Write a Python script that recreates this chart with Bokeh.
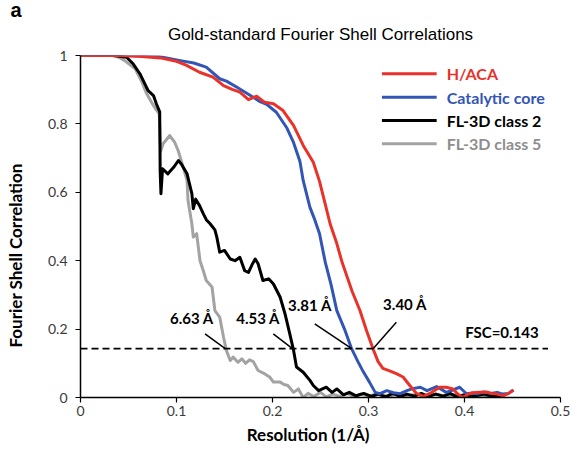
from bokeh.plotting import figure
from bokeh.models import FixedTicker, NumeralTickFormatter, Label, Title
from bokeh.embed import file_html
from bokeh.resources import INLINE

# ---------------- data ----------------
haca_x = [0, 0.02, 0.04, 0.06, 0.083, 0.10, 0.11, 0.124, 0.138, 0.149, 0.158, 0.166, 0.175,
          0.1835, 0.192, 0.201, 0.211, 0.222, 0.232, 0.2425, 0.249, 0.255, 0.26, 0.267, 0.272,
          0.2755, 0.283, 0.291, 0.298, 0.305, 0.31, 0.315, 0.322, 0.329, 0.336, 0.343, 0.35,
          0.357, 0.364, 0.374, 0.381, 0.388, 0.393, 0.398, 0.404, 0.409, 0.416, 0.423, 0.428,
          0.434, 0.44, 0.446, 0.451]
haca_y = [1, 1, 1, 0.998, 0.993, 0.983, 0.972, 0.951, 0.937, 0.912, 0.901, 0.893, 0.871,
          0.881, 0.863, 0.859, 0.839, 0.795, 0.737, 0.688, 0.632, 0.565, 0.508, 0.45, 0.40,
          0.371, 0.31, 0.255, 0.195, 0.14, 0.105, 0.085, 0.078, 0.07, 0.06, 0.035, 0.012,
          0.003, 0.012, 0.03, 0.03, 0.025, 0.01, 0.0, 0.01, 0.014, 0.015, 0.016, 0.012,
          0.01, 0.005, 0.012, 0.022]

core_x = [0, 0.04, 0.08, 0.104, 0.118, 0.131, 0.145, 0.152, 0.163, 0.177, 0.187, 0.194, 0.204,
          0.215, 0.222, 0.2286, 0.232, 0.239, 0.244, 0.249, 0.255, 0.261, 0.267, 0.275, 0.2825,
          0.289, 0.2946, 0.301, 0.307, 0.312, 0.319, 0.326, 0.333, 0.34, 0.346, 0.354, 0.361,
          0.371, 0.381, 0.388, 0.395, 0.402, 0.408, 0.413, 0.42, 0.427, 0.434, 0.44, 0.446, 0.451]
core_y = [1, 1, 0.998, 0.985, 0.978, 0.966, 0.932, 0.925, 0.907, 0.883, 0.865, 0.857, 0.834,
          0.788, 0.745, 0.69, 0.634, 0.556, 0.52, 0.479, 0.395, 0.33, 0.254, 0.2, 0.142,
          0.105, 0.075, 0.045, 0.015, 0.011, 0.02, 0.014, 0.011, 0.02, 0.026, 0.03, 0.02,
          0.032, 0.015, 0.022, 0.03, 0.011, 0.013, 0.011, 0.016, 0.012, 0.015, 0.01, 0.012, 0.022]

cls2_x = [0, 0.02, 0.035, 0.048, 0.055, 0.062, 0.067, 0.0705, 0.076, 0.079, 0.0825, 0.083,
          0.0838, 0.0855, 0.091, 0.097, 0.102, 0.105, 0.111, 0.116, 0.1175, 0.12, 0.124, 0.128,
          0.131, 0.135, 0.14, 0.142, 0.145, 0.15, 0.156, 0.161, 0.166, 0.171, 0.175, 0.179,
          0.182, 0.185, 0.19, 0.196, 0.201, 0.208, 0.213, 0.218, 0.222, 0.225, 0.232, 0.239,
          0.2425, 0.248, 0.256, 0.262, 0.267, 0.274, 0.28, 0.287, 0.295, 0.303, 0.31, 0.318,
          0.325, 0.333, 0.34, 0.348, 0.355, 0.362, 0.37, 0.378, 0.385, 0.392, 0.4, 0.41,
          0.42, 0.43, 0.44]
cls2_y = [1, 1, 1, 0.995, 0.975, 0.946, 0.917, 0.897, 0.883, 0.859, 0.835, 0.66,
          0.596, 0.669, 0.654, 0.673, 0.693, 0.683, 0.654, 0.596, 0.552, 0.58, 0.561, 0.537,
          0.52, 0.508, 0.49, 0.469, 0.425, 0.43, 0.405, 0.40, 0.41, 0.371, 0.366, 0.39,
          0.405, 0.391, 0.342, 0.347, 0.332, 0.293, 0.245, 0.186, 0.137, 0.089, 0.074, 0.05,
          0.035, 0.02, 0.03, 0.015, 0.025, 0.008, 0.015, 0.005, 0.012, 0.003, 0.01, 0.002,
          0.012, 0.003, 0.01, 0.004, 0.012, 0.003, 0.01, 0.004, 0.012, 0.002, 0.008, 0.004,
          0.01, 0.003, 0.006]

cls5_x = [0, 0.02, 0.0325, 0.04, 0.046, 0.057, 0.064, 0.069, 0.074, 0.078, 0.082, 0.083,
          0.0835, 0.086, 0.093, 0.098, 0.102, 0.107, 0.111, 0.112, 0.116, 0.1175, 0.121,
          0.1245, 0.128, 0.131, 0.137, 0.14, 0.145, 0.149, 0.152, 0.156, 0.159, 0.164, 0.168,
          0.172, 0.176, 0.18, 0.185, 0.192, 0.197, 0.201, 0.208, 0.212, 0.216, 0.222, 0.227,
          0.232, 0.237, 0.243, 0.25, 0.256, 0.263, 0.27, 0.278, 0.285, 0.292, 0.3, 0.31, 0.32,
          0.33, 0.34, 0.35, 0.36, 0.37, 0.38, 0.39, 0.40, 0.41, 0.42, 0.43, 0.44]
cls5_y = [1, 1, 1, 0.995, 0.985, 0.961, 0.922, 0.888, 0.863, 0.845, 0.83, 0.75,
          0.72, 0.742, 0.766, 0.747, 0.72, 0.673, 0.635, 0.576, 0.508, 0.469, 0.479,
          0.40, 0.37, 0.342, 0.323, 0.254, 0.235, 0.176, 0.137, 0.108, 0.118, 0.103, 0.113,
          0.1, 0.11, 0.105, 0.079, 0.069, 0.06, 0.045, 0.045, 0.038, 0.035, 0.015, 0.025,
          0.0, 0.012, 0.003, 0.015, 0.002, 0.01, 0.003, 0.012, 0.002, 0.01, 0.004, 0.012,
          0.003, 0.01, 0.004, 0.01, 0.002, 0.01, 0.003, 0.008, 0.002, 0.008, 0.003, 0.006, 0.002]

series_names = ["H/ACA", "Catalytic core", "FL-3D class 2", "FL-3D class 5"]
series_colors = ["#e8322a", "#3355b5", "#000000", "#a3a3a3"]
legend_text_colors = ["#e8322a", "#3355b5", "#000000", "#8e8e8e"]

fsc_threshold = 0.143
res_labels = ["6.63 Å", "4.53 Å", "3.81 Å", "3.40 Å"]
res_cross_x = [0.1508, 0.2208, 0.2825, 0.305]

x_ticks = [0, 0.1, 0.2, 0.3, 0.4, 0.5]
y_ticks = [0, 0.2, 0.4, 0.6, 0.8, 1.0]

title_text = "Gold-standard Fourier Shell Correlations"
panel_letter = "a"
x_label = "Resolution (1/Å)"
y_label = "Fourier Shell Correlation"

# ---------------- figure ----------------
NB = "\u00a0"
p = figure(width=574, height=449, x_range=(0, 0.5), y_range=(0, 1.0),
           output_backend="svg", toolbar_location=None,
           min_border_left=80, min_border_right=14, min_border_top=55, min_border_bottom=52)
p.outline_line_color = None
p.grid.visible = False
p.background_fill_color = "white"
p.border_fill_color = "white"

# panel letter (outermost)
p.title.text = panel_letter
p.title.align = "left"
p.title.offset = -70
p.title.text_font = "Liberation Sans"
p.title.text_font_style = "bold"
p.title.text_font_size = "20px"
p.title.text_color = "black"
p.title.standoff = -20

# main title (next to the frame)
p.add_layout(Title(text=title_text, align="center", offset=-32, text_font="Liberation Sans",
                   text_font_style="normal", text_font_size="17px", text_color="black",
                   standoff=24), "above")

for ax, ticks in ((p.xaxis, x_ticks), (p.yaxis, y_ticks)):
    ax.ticker = FixedTicker(ticks=ticks)
    ax.formatter = NumeralTickFormatter(format="0.[0]")
    ax.minor_tick_line_color = None
    ax.axis_line_color = "black"
    ax.axis_line_width = 1.5
    ax.major_tick_line_color = "black"
    ax.major_tick_line_width = 1.2
    ax.major_tick_out = 5
    ax.major_tick_in = 0
    ax.major_label_text_font = "Lato"
    ax.major_label_text_font_size = "14px"
    ax.major_label_text_color = "#3a3a3a"
    ax.axis_label_text_font = "Lato"
    ax.axis_label_text_font_style = "bold"
    ax.axis_label_text_font_size = "17px"
    ax.axis_label_text_color = "black"
p.xaxis.major_label_standoff = 3
p.yaxis.major_label_standoff = 8
p.xaxis.axis_label = x_label + NB * 6
p.xaxis.axis_label_standoff = 5
p.yaxis.axis_label = y_label + NB * 14
p.yaxis.axis_label_standoff = 19

# curves
curves = [(haca_x, haca_y), (core_x, core_y), (cls2_x, cls2_y), (cls5_x, cls5_y)]
for i in [3, 2, 1, 0]:
    xs, ys = curves[i]
    p.line(xs, ys, line_color=series_colors[i], line_width=3, line_join="round")

# threshold dashed line
p.line([0, 0.487], [fsc_threshold, fsc_threshold], line_color="black",
       line_width=1.6, line_dash="7 4")

# resolution labels and leader lines
label_pos = [(0.116, 0.205), (0.185, 0.205), (0.239, 0.243), (0.338, 0.248)]
leader_start = [(0.1297, 0.186), (0.2008, 0.186), (0.244, 0.215), (0.329, 0.22)]
for txt, cx, (lx, ly), (sx, sy) in zip(res_labels, res_cross_x, label_pos, leader_start):
    p.segment(x0=[sx], y0=[sy], x1=[cx], y1=[fsc_threshold], line_color="black", line_width=1.5)
    p.add_layout(Label(x=lx, y=ly, text=txt, text_align="center", text_baseline="bottom",
                       text_font="Lato", text_font_style="bold", text_font_size="15px",
                       text_color="black"))

p.add_layout(Label(x=0.439, y=0.191, text="FSC=0.143", text_align="center",
                   text_baseline="middle", text_font="Lato", text_font_style="bold",
                   text_font_size="15px", text_color="black"))

# legend (manual, coloured text)
leg_y = [0.9465, 0.878, 0.81, 0.742]
for name, lc, tc, ly in zip(series_names, series_colors, legend_text_colors, leg_y):
    p.segment(x0=[0.314], y0=[ly], x1=[0.371], y1=[ly], line_color=lc, line_width=3)
    p.add_layout(Label(x=0.3815, y=ly, text=name, text_align="left", text_baseline="middle",
                       text_font="Lato", text_font_style="bold", text_font_size="16px",
                       text_color=tc))

open("out.html", "w").write(file_html(p, INLINE))
